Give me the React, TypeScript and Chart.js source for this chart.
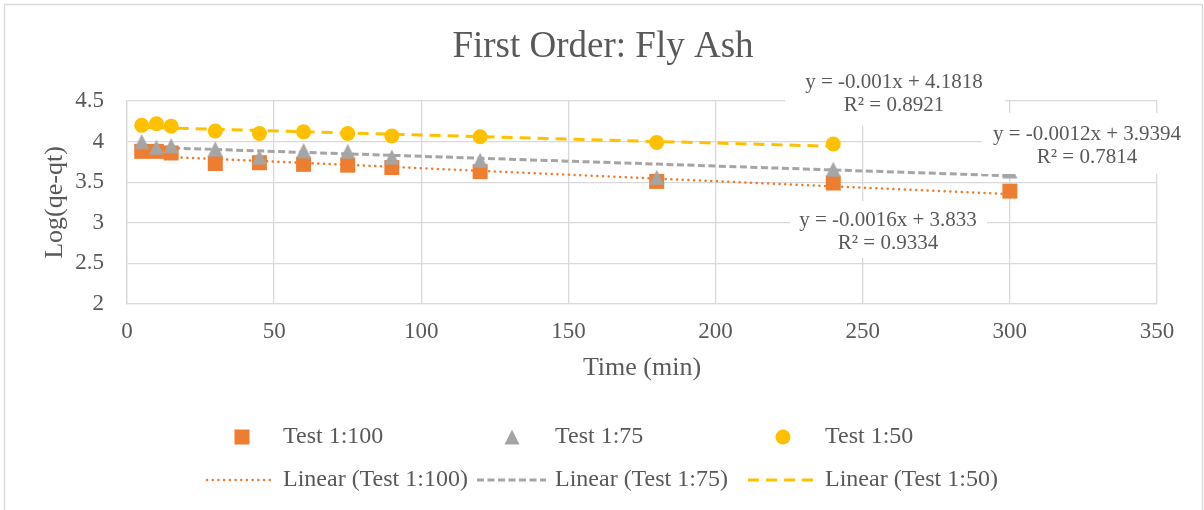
import React, { useEffect, useRef } from "react";
import { Chart, registerables } from "chart.js";

Chart.register(...registerables);

// ---------- data ----------
const timeMin = [5, 10, 15, 30, 45, 60, 75, 90, 120, 180, 240, 300];
const test100 = [3.88, 3.88, 3.86, 3.73, 3.74, 3.72, 3.71, 3.68, 3.63, 3.51, 3.49, 3.39];
const test75 = [4.0, 3.93, 3.95, 3.91, 3.81, 3.89, 3.88, 3.81, 3.77, 3.56, 3.66, 3.64];
const time50 = [5, 10, 15, 30, 45, 60, 75, 90, 120, 180, 240];
const test50 = [4.2, 4.22, 4.19, 4.13, 4.1, 4.12, 4.1, 4.07, 4.06, 3.99, 3.97];

const trend100X = [5, 300];
const trend100Y = [3.825, 3.353];
const trend75X = [5, 300];
const trend75Y = [3.933, 3.579];
const trend50X = [5, 240];
const trend50Y = [4.177, 3.942];

const seriesNames = ["Test 1:100", "Test 1:75", "Test 1:50"];
const trendNames = ["Linear (Test 1:100)", "Linear (Test 1:75)", "Linear (Test 1:50)"];
const eqLabels = ["y = -0.0016x + 3.833", "y = -0.0012x + 3.9394", "y = -0.001x + 4.1818"];
const r2Labels = ["R\u00B2 = 0.9334", "R\u00B2 = 0.7814", "R\u00B2 = 0.8921"];

const chartTitle = "First Order: Fly Ash";
const xTitle = "Time (min)";
const yTitle = "Log(qe-qt)";

// ---------- styles ----------
const ORANGE = "#ED7D31";
const GRAY = "#A5A5A5";
const YELLOW = "#FFC000";
const TEXT = "#595959";
const GRID = "#d9d9d9";
const FONT = "'Liberation Serif', 'Times New Roman', serif";

const DOT = [0.1, 5.6];
const DASH = [7, 3.5];
const LONGDASH = [11, 7];

function zip(xs: number[], ys: number[]) {
  return xs.map((x, i) => ({ x, y: ys[i] }));
}

function makeTriangle(size: number, color: string) {
  const c = document.createElement("canvas");
  c.width = size;
  c.height = size;
  const g = c.getContext("2d")!;
  g.fillStyle = color;
  g.beginPath();
  g.moveTo(size / 2, 0.5);
  g.lineTo(size - 0.5, size - 0.5);
  g.lineTo(0.5, size - 0.5);
  g.closePath();
  g.fill();
  return c;
}

const labelBoxes = [
  { x0: 790, y0: 201, x1: 987, y1: 258, cx: 888, ya: 220, yb: 243 },
  { x0: 982, y0: 113, x1: 1196, y1: 174, cx: 1087, ya: 134, yb: 157 },
  { x0: 785, y0: 62, x1: 1005, y1: 126, cx: 894, ya: 82, yb: 105 },
];

const legendCols = [
  { sx0: 207, sx1: 271, mx: 242, tx: 283 },
  { sx0: 477, sx1: 546, mx: 512, tx: 555 },
  { sx0: 748, sx1: 814, mx: 783, tx: 825 },
];
const legendRow1 = 437;
const legendRow2 = 480;

export default function App() {
  const ref = useRef<HTMLCanvasElement | null>(null);

  useEffect(() => {
    if (!ref.current) return;
    const tri = makeTriangle(16, GRAY);

    const decor = {
      id: "decor",
      afterDraw(chart: any) {
        const ctx = chart.ctx as CanvasRenderingContext2D;
        ctx.save();
        // outer frame
        ctx.strokeStyle = GRID;
        ctx.lineWidth = 1.3;
        ctx.beginPath();
        ctx.moveTo(4.5, 520);
        ctx.lineTo(4.5, 4.5);
        ctx.lineTo(1202.5, 4.5);
        ctx.lineTo(1202.5, 520);
        ctx.stroke();

        ctx.fillStyle = TEXT;
        ctx.textBaseline = "middle";
        ctx.textAlign = "center";
        // title
        ctx.font = `37px ${FONT}`;
        ctx.fillText(chartTitle, 603, 47);
        // axis titles
        const ca = chart.chartArea;
        ctx.font = `26px ${FONT}`;
        ctx.fillText(xTitle, (ca.left + ca.right) / 2, 368);
        ctx.save();
        ctx.translate(55, (ca.top + ca.bottom) / 2);
        ctx.rotate(-Math.PI / 2);
        ctx.fillText(yTitle, 0, 0);
        ctx.restore();

        // trendline labels
        ctx.font = `21px ${FONT}`;
        labelBoxes.forEach((b, i) => {
          ctx.fillStyle = "#ffffff";
          ctx.fillRect(b.x0, b.y0, b.x1 - b.x0, b.y1 - b.y0);
          ctx.fillStyle = TEXT;
          ctx.fillText(eqLabels[i], b.cx, b.ya);
          ctx.fillText(r2Labels[i], b.cx, b.yb);
        });

        // legend
        ctx.font = `24px ${FONT}`;
        ctx.textAlign = "left";
        const colors = [ORANGE, GRAY, YELLOW];
        const dashes = [DOT, DASH, LONGDASH];
        legendCols.forEach((c, i) => {
          ctx.fillStyle = colors[i];
          if (i === 0) {
            ctx.fillRect(c.mx - 7.5, legendRow1 - 7.5, 15, 15);
          } else if (i === 1) {
            ctx.drawImage(tri, c.mx - 8, legendRow1 - 8);
          } else {
            ctx.beginPath();
            ctx.arc(c.mx, legendRow1, 7.5, 0, Math.PI * 2);
            ctx.fill();
          }
          ctx.fillStyle = TEXT;
          ctx.fillText(seriesNames[i], c.tx, legendRow1);
          ctx.save();
          ctx.strokeStyle = colors[i];
          ctx.lineWidth = i === 0 ? 2.5 : 3;
          ctx.lineCap = i === 0 ? "round" : "butt";
          ctx.setLineDash(dashes[i]);
          ctx.beginPath();
          ctx.moveTo(c.sx0, legendRow2);
          ctx.lineTo(c.sx1, legendRow2);
          ctx.stroke();
          ctx.restore();
          ctx.fillStyle = TEXT;
          ctx.fillText(trendNames[i], c.tx, legendRow2);
        });
        ctx.restore();
      },
    };

    const chart = new Chart(ref.current, {
      type: "scatter",
      data: {
        datasets: [
          {
            label: seriesNames[2],
            data: zip(time50, test50),
            pointStyle: "circle",
            pointRadius: 7.5,
            backgroundColor: YELLOW,
            borderColor: YELLOW,
            borderWidth: 0,
            order: 0,
          },
          {
            label: seriesNames[1],
            data: zip(timeMin, test75),
            pointStyle: tri as any,
            pointRadius: 8,
            backgroundColor: GRAY,
            borderColor: GRAY,
            borderWidth: 0,
            order: 1,
          },
          {
            label: seriesNames[0],
            data: zip(timeMin, test100),
            pointStyle: "rect",
            pointRadius: 10.6,
            backgroundColor: ORANGE,
            borderColor: ORANGE,
            borderWidth: 0,
            order: 2,
          },
          {
            type: "line",
            label: trendNames[0],
            data: zip(trend100X, trend100Y),
            borderColor: ORANGE,
            borderWidth: 2.5,
            borderDash: DOT,
            borderCapStyle: "round",
            pointRadius: 0,
            showLine: true,
            fill: false,
            order: 5,
          },
          {
            type: "line",
            label: trendNames[1],
            data: zip(trend75X, trend75Y),
            borderColor: GRAY,
            borderWidth: 3,
            borderDash: DASH,
            pointRadius: 0,
            showLine: true,
            fill: false,
            order: 4,
          },
          {
            type: "line",
            label: trendNames[2],
            data: zip(trend50X, trend50Y),
            borderColor: YELLOW,
            borderWidth: 3,
            borderDash: LONGDASH,
            pointRadius: 0,
            showLine: true,
            fill: false,
            order: 3,
          },
        ] as any,
      },
      options: {
        responsive: false,
        animation: false,
        events: [],
        layout: { padding: { top: 101, right: 47, bottom: 0, left: 0 } },
        plugins: {
          legend: { display: false },
          title: { display: false },
          tooltip: { enabled: false },
        },
        scales: {
          x: {
            type: "linear",
            min: 0,
            max: 350,
            ticks: {
              stepSize: 50,
              color: TEXT,
              font: { family: FONT, size: 23 },
              padding: 14,
              maxRotation: 0,
              callback: (v: any) => String(Number(v)),
            },
            grid: { color: GRID, lineWidth: 1.3, drawTicks: false },
            border: { color: GRID, width: 1.3 },
            afterFit(scale: any) {
              scale.height = 206;
            },
          },
          y: {
            type: "linear",
            min: 2,
            max: 4.5,
            ticks: {
              stepSize: 0.5,
              color: TEXT,
              font: { family: FONT, size: 23 },
              padding: 23,
              callback: (v: any) => String(Math.round(Number(v) * 10) / 10),
            },
            grid: { color: GRID, lineWidth: 1.3, drawTicks: false },
            border: { color: GRID, width: 1.3 },
            afterFit(scale: any) {
              scale.width = 127;
            },
          },
        },
      } as any,
      plugins: [decor],
    });
    return () => chart.destroy();
  }, []);

  return (
    <div style={{ position: "fixed", left: 0, top: 0, width: 1204, height: 510, background: "#ffffff" }}>
      <canvas ref={ref} width={1204} height={510} style={{ display: "block" }} />
    </div>
  );
}
